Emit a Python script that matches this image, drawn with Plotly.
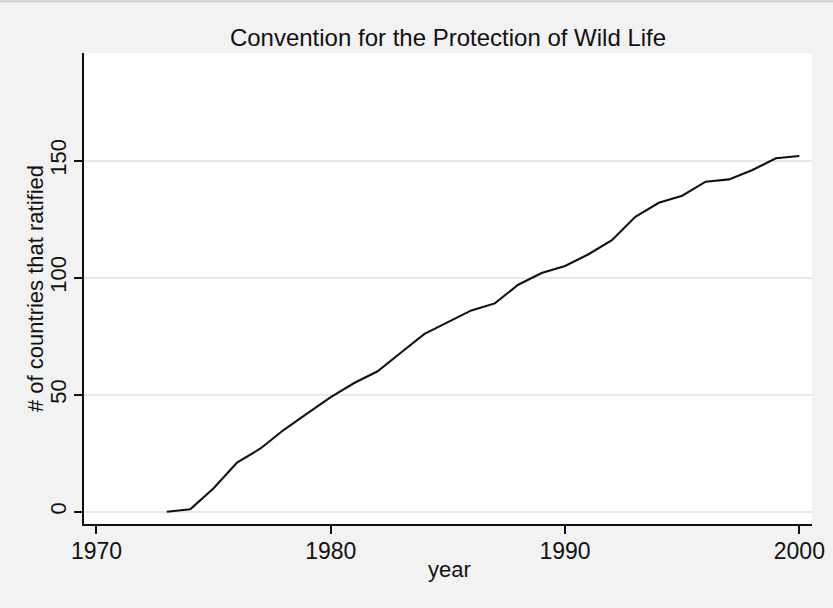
import plotly.graph_objects as go

years = list(range(1973, 2001))
ratified = [0, 1, 10, 21, 27, 35, 42, 49, 55, 60, 68, 76, 81, 86, 89,
            97, 102, 105, 110, 116, 126, 132, 135, 141, 142, 146, 151, 152]
x_ticks = [1970, 1980, 1990, 2000]
y_ticks = [0, 50, 100, 150]
title_text = "Convention for the Protection of Wild Life"
x_title = "year"
y_title = "# of countries that ratified"

FONT = "Liberation Sans, Arial, sans-serif"
INK = "#111111"

# plot-area geometry in pixels
L, R, T, B = 84, 21, 53, 84
W, H = 833, 608
PW, PH = W - L - R, H - T - B


def px_x(px):
    return (px - L) / PW


def px_y(py):
    return (H - B - py) / PH


fig = go.Figure()
fig.add_trace(go.Scatter(x=years, y=ratified, mode="lines",
                         line=dict(color=INK, width=2.1),
                         showlegend=False))

fig.update_layout(
    width=W, height=H,
    margin=dict(l=L, r=R, t=T, b=B, autoexpand=False),
    paper_bgcolor="#f2f2f2",
    plot_bgcolor="#ffffff",
    font=dict(family=FONT, color=INK),
    title=dict(text=title_text, x=0.5, xref="paper", xanchor="center",
               y=1 - 37.5 / H, yref="container", yanchor="middle",
               font=dict(size=24, family=FONT, color=INK)),
    xaxis=dict(range=[1969.467, 2000.54], tickvals=x_ticks,
               showgrid=False, zeroline=False, automargin=False,
               showline=True, linecolor=INK, linewidth=2,
               ticks="outside", ticklen=8, tickwidth=2, tickcolor=INK,
               ticklabelstandoff=-3,
               tickfont=dict(size=23, family=FONT, color=INK)),
    yaxis=dict(range=[-5.26, 196.0], tickvals=y_ticks,
               showgrid=True, gridcolor="#e8e8e8", gridwidth=1.5,
               zeroline=False, automargin=False,
               showline=True, linecolor=INK, linewidth=2,
               ticks="outside", ticklen=8, tickwidth=2, tickcolor=INK,
               tickangle=-90, ticklabelstandoff=-1,
               tickfont=dict(size=22, family=FONT, color=INK)),
    annotations=[
        dict(text=x_title, xref="paper", yref="paper",
             x=px_x(449.5), y=px_y(569), xanchor="center", yanchor="middle",
             showarrow=False, font=dict(size=22, family=FONT, color=INK)),
        dict(text=y_title, xref="paper", yref="paper", textangle=-90,
             x=px_x(35.5), y=px_y(288.5), xanchor="center", yanchor="middle",
             showarrow=False, font=dict(size=22, family=FONT, color=INK)),
    ],
    shapes=[dict(type="line", xref="paper", yref="paper", x0=-0.2, x1=1.2,
                 y0=px_y(1), y1=px_y(1),
                 line=dict(color="#d2d2d2", width=3))],
)

fig.write_html(
    "out.html",
    config={"displayModeBar": False},
    post_script="document.body.style.margin='0';document.body.style.background='#f2f2f2';",
)
